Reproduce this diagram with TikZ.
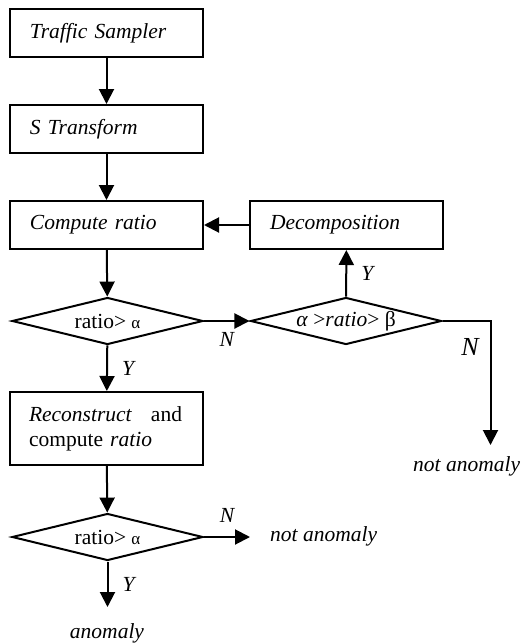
\documentclass[tikz,border=0pt]{standalone}
\usepackage{fontspec}
\setmainfont{Liberation Serif}
\usetikzlibrary{shapes.geometric,arrows.meta}
\begin{document}
\begin{tikzpicture}[x=1pt,y=-1pt,
  font=\fontsize{21.5}{25}\selectfont,
  lw/.style={line width=2pt},
  box/.style={draw,lw,rectangle,minimum width=193pt,text width=153pt,inner xsep=20pt,inner ysep=0pt,align=left},
  dia/.style={draw,lw,diamond,aspect=4.15,inner sep=0pt,minimum width=191pt,minimum height=47pt},
  arr/.style={lw,-{Triangle[width=15pt,length=15pt]}},
  lab/.style={font=\fontsize{21.5}{25}\selectfont\itshape,inner sep=0pt}]
\useasboundingbox (0,0) rectangle (520,643);
\node[box,minimum height=48pt] (b1) at (106.5,33) {\textit{Traffic Sampler}};
\node[box,minimum height=48pt] (b2) at (106.5,129) {\textit{S Transform}};
\node[box,minimum height=48pt] (b3) at (106.5,225) {\textit{Compute ratio}};
\node[box,minimum height=48pt] (dec) at (346.5,225) {\textit{Decomposition}};
\node[dia] (d1) at (107.5,321) {ratio> {\fontsize{17}{20}\selectfont α}};
\node[dia] (d2) at (346,321) {\textit{α} >\textit{ratio}> β};
\node[box,minimum height=73pt,text width=155pt,inner xsep=19pt] (b4) at (106.5,428.5) {\makebox[153pt][s]{\textit{Reconstruct}\hfill and}\\compute \textit{ratio}};
\node[dia] (d3) at (107.5,537) {ratio> {\fontsize{17}{20}\selectfont α}};
\node[lab,anchor=center] (an) at (107,633) {anomaly};
\node[lab,anchor=west] (na1) at (270,536) {not anomaly};
\node[lab,anchor=west] (na2) at (413,466) {not anomaly};
\coordinate (c1) at (250,537);
\coordinate (c2) at (107.5,607);
\coordinate (c3) at (490.5,445);
\draw[arr] (b1) -- (b2);
\draw[arr] (b2) -- (b3);
\draw[arr] (b3) -- (d1);
\draw[arr] (dec) -- (b3);
\draw[arr] (d1) -- node[lab,below,yshift=-10pt] (n1) {N} (d2);
\draw[arr] (d2) -- node[lab,right,xshift=14pt] (y1) {Y} (dec);
\draw[arr] (d2.east) -| (c3);
\node[lab,font=\fontsize{26}{30}\selectfont\itshape] (n2) at (470,347) {N};
\draw[arr] (d1) -- node[lab,right,xshift=14pt] (y2) {Y} (b4);
\draw[arr] (b4) -- (d3);
\draw[arr] (d3.east) -- node[lab,above,yshift=14pt] (n3) {N} (c1);
\draw[arr] (d3.south) -- node[lab,right,xshift=14pt] (y3) {Y} (c2);
\end{tikzpicture}
\end{document}
